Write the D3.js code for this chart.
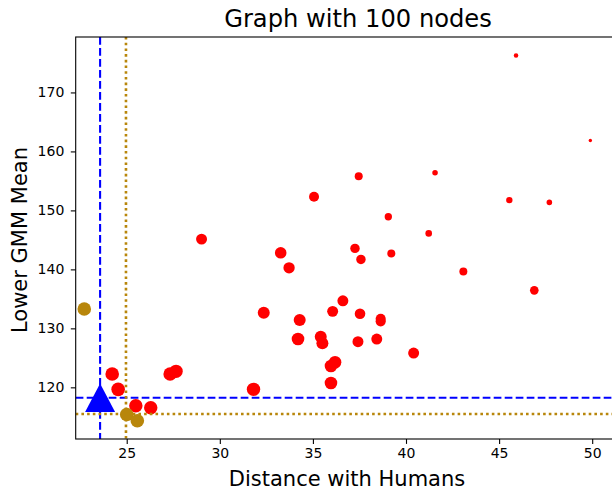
<!DOCTYPE html>
<html lang="en">
    <head>
       <script src="https://d3js.org/d3.v7.min.js"></script>
       <style>
           body { margin: 0; background: #fff; }
           svg { font-family: "DejaVu Sans", sans-serif; display: block; }
       </style>
    </head>
    <body>

        <script>
            var width  = 612;
            var height = 492;

            // red nodes: distance with humans, lower GMM mean, marker size
            var redX = [29.02, 32.36, 24.22, 24.54, 25.49, 26.29, 27.33, 27.65, 31.81,
                        33.27, 33.72, 37.26, 37.58, 39.21, 41.22, 43.08, 36.61, 36.06,
                        37.53, 38.64, 38.64, 34.29, 34.20, 35.42, 35.51, 37.42, 38.43,
                        40.41, 36.19, 35.97, 35.97, 37.46, 35.06, 39.05, 41.56, 45.91,
                        49.90, 45.55, 47.70, 46.89];
            var redY = [145.13, 132.64, 122.25, 119.66, 116.88, 116.54, 122.25, 122.71, 119.66,
                        142.81, 140.27, 143.56, 141.69, 142.71, 146.10, 139.66, 134.68, 132.88,
                        132.47, 131.63, 131.19, 131.41, 128.19, 128.58, 127.46, 127.73, 128.19,
                        125.81, 124.24, 123.61, 120.73, 155.81, 152.30, 148.92, 156.37, 176.27,
                        161.86, 151.75, 151.36, 136.44];
            var redS = [47, 56, 72, 72, 70, 70, 70, 70, 70,
                        52, 50, 35, 35, 25, 17, 25, 47, 47,
                        44, 40, 40, 56, 62, 56, 56, 47, 47,
                        47, 62, 62, 62, 25, 39, 21, 12, 8,
                        4.5, 16, 12, 29];

            // gold nodes
            var goldX = [22.72, 25.00, 25.57];
            var goldY = [133.27, 115.40, 114.34];
            var goldS = [72, 72, 72];

            // the human reference point and the two pairs of threshold lines
            var humanX = 23.57;
            var humanY = 118.24;
            var blueX = 23.57, blueY = 118.24;
            var goldLineX = 24.96, goldLineY = 115.47;

            var xTicks = [25, 30, 35, 40, 45, 50];
            var yTicks = [120, 130, 140, 150, 160, 170];

            // axes box (right side runs past the window edge, as in the reference)
            var pLeft = 75.7, pTop = 37, pBottom = 439, pRight = 616.4;

            var x = d3.scaleLinear().domain([22.26, 51.3]).range([pLeft, pRight]);
            var y = d3.scaleLinear().domain([111.24, 179.4]).range([pBottom, pTop]);
            var size = d3.scaleSqrt().domain([0, 100]).range([0, 8]);

            var svg = d3.select("body")
                        .append("svg")
                        .attr("width", width)
                        .attr("height", height);

            svg.append("clipPath").attr("id", "clip")
               .append("rect")
               .attr("x", pLeft).attr("y", pTop)
               .attr("width", pRight - pLeft).attr("height", pBottom - pTop);

            var marks = svg.append("g").attr("clip-path", "url(#clip)");

            // red scatter
            marks.selectAll("circle.red")
                 .data(redX)
                 .enter().append("circle")
                 .attr("class", "red")
                 .attr("cx", function(d) { return x(d); })
                 .attr("cy", function(d, i) { return y(redY[i]); })
                 .attr("r", function(d, i) { return size(redS[i]); })
                 .style("fill", "#ff0000");

            // gold scatter
            marks.selectAll("circle.gold")
                 .data(goldX)
                 .enter().append("circle")
                 .attr("class", "gold")
                 .attr("cx", function(d) { return x(d); })
                 .attr("cy", function(d, i) { return y(goldY[i]); })
                 .attr("r", function(d, i) { return size(goldS[i]); })
                 .style("fill", "#b8860b");

            // threshold lines
            function vline(v, color, w, dash) {
                marks.append("line")
                     .attr("x1", x(v)).attr("x2", x(v))
                     .attr("y1", pTop).attr("y2", pBottom)
                     .attr("stroke", color).attr("stroke-width", w)
                     .attr("stroke-dasharray", dash);
            }
            function hline(v, color, w, dash) {
                marks.append("line")
                     .attr("x1", pLeft).attr("x2", pRight)
                     .attr("y1", y(v)).attr("y2", y(v))
                     .attr("stroke", color).attr("stroke-width", w)
                     .attr("stroke-dasharray", dash);
            }
            vline(blueX, "#0000ff", 2.1, "7.7,3.3");
            hline(blueY, "#0000ff", 2.1, "7.7,3.3");
            vline(goldLineX, "#b8860b", 2.6, "2.6,3.1");
            hline(goldLineY, "#b8860b", 2.6, "2.6,3.1");

            // human marker (triangle)
            var tw = 15, th = 14.3;
            marks.append("path")
                 .attr("d", "M0," + (-th) + "L" + (-tw) + "," + th + "L" + tw + "," + th + "Z")
                 .attr("transform", "translate(" + x(humanX) + "," + y(humanY) + ")")
                 .style("fill", "#0000ff");

            // spines
            svg.append("rect")
               .attr("x", pLeft).attr("y", pTop)
               .attr("width", pRight - pLeft).attr("height", pBottom - pTop)
               .attr("fill", "none").attr("stroke", "#000").attr("stroke-width", 1.1);

            // axes
            var xAxis = d3.axisBottom(x).tickValues(xTicks).tickSize(4.9).tickPadding(4.5);
            var yAxis = d3.axisLeft(y).tickValues(yTicks).tickSize(4.9).tickPadding(6.5);

            var gx = svg.append("g")
                        .attr("transform", "translate(0," + pBottom + ")")
                        .call(xAxis);
            var gy = svg.append("g")
                        .attr("transform", "translate(" + pLeft + ",0)")
                        .call(yAxis);

            [gx, gy].forEach(function(g) {
                g.attr("font-size", null).attr("font-family", null);
                g.select(".domain").remove();
                g.selectAll(".tick line").attr("stroke", "#000").attr("stroke-width", 1.1);
                g.selectAll(".tick text")
                 .attr("fill", "#000")
                 .style("font-size", "14px")
                 .style("font-family", "DejaVu Sans");
            });

            // title and labels
            svg.append("text")
               .attr("x", 358).attr("y", 27)
               .attr("text-anchor", "middle")
               .style("font-size", "24.2px")
               .text("Graph with 100 nodes");

            svg.append("text")
               .attr("x", 347).attr("y", 486)
               .attr("text-anchor", "middle")
               .style("font-size", "21px")
               .text("Distance with Humans");

            svg.append("text")
               .attr("transform", "translate(26.5,240) rotate(-90)")
               .attr("text-anchor", "middle")
               .style("font-size", "21px")
               .text("Lower GMM Mean");
        </script>

    </body>
</html>
